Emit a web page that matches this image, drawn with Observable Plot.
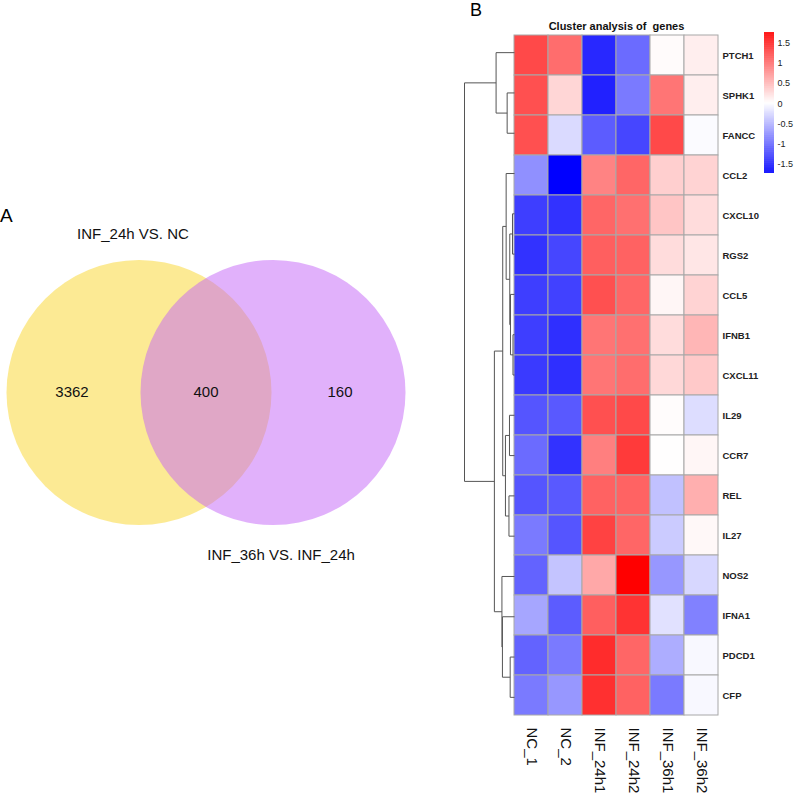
<!DOCTYPE html>
<html>
<head>
<meta charset="utf-8">
<script src="https://cdn.jsdelivr.net/npm/d3@7"></script>
<script src="https://cdn.jsdelivr.net/npm/@observablehq/plot@0.6"></script>
<style>
  body { margin: 0; background: #fff; }
  #fig { position: relative; width: 794px; height: 793px; overflow: hidden; background: #fff;
         font-family: "Liberation Sans", Arial, Helvetica, sans-serif; }
  #fig svg { position: absolute; left: 0; top: 0; }
  .panel { position: absolute; line-height: 1; color: #000; }
</style>
</head>
<body>
<div id="fig"></div>
<script>
// ---------------- DATA ----------------
// Venn (panel A)
const vennSets = ["INF_24h VS. NC", "INF_36h VS. INF_24h"];
const vennCounts = [3362, 400, 160]; // only set 1, both, only set 2
const vennColors = ["#F9D529", "#C363F7"];

// Heatmap (panel B)
const samples = ["NC_1", "NC_2", "INF_24h1", "INF_24h2", "INF_36h1", "INF_36h2"];
const genes = ["PTCH1", "SPHK1", "FANCC", "CCL2", "CXCL10", "RGS2", "CCL5", "IFNB1", "CXCL11",
               "IL29", "CCR7", "REL", "IL27", "NOS2", "IFNA1", "PDCD1", "CFP"];
// row z-scores, one array per sample (in gene order)
const zNC1    = [1.25, 1.20, 1.20, -0.75, -1.30, -1.38, -1.30, -1.30, -1.33, -1.15, -1.00, -1.15, -0.90, -1.05, -0.60, -1.05, -0.90];
const zNC2    = [1.00, 0.28, -0.25, -1.72, -1.38, -1.25, -1.28, -1.40, -1.40, -1.12, -1.38, -1.12, -1.15, -0.40, -1.10, -0.90, -0.70];
const zINF24a = [-1.45, -1.50, -1.10, 0.85, 1.05, 1.10, 1.20, 0.95, 0.95, 1.20, 0.88, 1.08, 1.30, 0.60, 1.10, 1.45, 1.42];
const zINF24b = [-1.00, -0.90, -1.25, 1.05, 0.98, 1.08, 1.05, 0.98, 1.00, 1.25, 1.35, 1.07, 1.05, 1.75, 1.40, 1.05, 1.08];
const zINF36a = [0.03, 0.95, 1.25, 0.33, 0.40, 0.24, 0.06, 0.24, 0.27, 0.02, 0.01, -0.42, -0.35, -0.70, -0.20, -0.55, -0.90];
const zINF36b = [0.12, 0.12, -0.03, 0.30, 0.24, 0.17, 0.30, 0.50, 0.37, -0.23, 0.06, 0.55, 0.05, -0.27, -0.85, -0.05, -0.05];
const legendTicks = [-1.5, -1, -0.5, 0, 0.5, 1, 1.5];
const zRange = [-1.72, 1.75];

// Row dendrogram merges: [left, right, height]; numbers refer to earlier merges
const merges = [
  ["SPHK1", "FANCC", 7.3],   // 0
  ["PTCH1", 0, 18.3],        // 1
  ["CXCL10", "RGS2", 2.0],   // 2
  ["IFNB1", "CXCL11", 1.5],  // 3
  ["CCL5", 3, 4.0],          // 4
  [2, 4, 4.7],               // 5
  ["CCL2", 5, 8.3],          // 6
  ["IL29", "CCR7", 5.0],     // 7
  ["REL", "IL27", 5.5],      // 8
  [7, 8, 9.0],               // 9
  [6, 9, 11.7],              // 10
  ["PDCD1", "CFP", 4.3],     // 11
  ["IFNA1", 11, 12.0],       // 12
  ["NOS2", 12, 12.5],        // 13
  [10, 13, 20.0],            // 14
  [1, 14, 49.7]              // 15
];

// ---------------- BUILD ----------------
const fig = document.getElementById("fig");
const FONT = "'Liberation Sans', Arial, Helvetica, sans-serif";
const baseStyle = `background:transparent;overflow:visible;font-family:${FONT};`;

// ---- Panel A: Venn ----
const vennCircles = vennSets.map((s, i) => ({set: s, cx: i, cy: 0, color: vennColors[i]}));
const vennRegions = [
  {label: String(vennCounts[0]), cx: -0.5},
  {label: String(vennCounts[1]), cx: 0.5},
  {label: String(vennCounts[2]), cx: 1.5}
];
const vennTitles = [
  {label: vennSets[0], cx: -0.045, cy: -1.18},
  {label: vennSets[1], cx: 1.06, cy: 1.215}
];
const venn = Plot.plot({
  width: 794, height: 793, margin: 0,
  style: baseStyle,
  x: {domain: [0, 1], range: [138.5, 272.5], axis: null},
  y: {domain: [0, 1], range: [392, 526], axis: null},
  marks: [
    Plot.dot(vennCircles, {x: "cx", y: "cy", r: 132.5, fill: "color", fillOpacity: 0.5, stroke: null}),
    Plot.text(vennRegions, {x: "cx", y: () => 0, text: "label", fontSize: 15, fill: "#111"}),
    Plot.text(vennTitles, {x: "cx", y: "cy", text: "label", fontSize: 15, fill: "#111"})
  ]
});
fig.appendChild(venn);

// ---- Panel B: heatmap ----
const cols = [zNC1, zNC2, zINF24a, zINF24b, zINF36a, zINF36b];
const cells = genes.flatMap((g, i) => samples.map((s, j) => ({gene: g, sample: s, z: cols[j][i]})));
const colorScale = {
  type: "linear", domain: [zRange[0], 0, zRange[1]],
  range: ["#0000ff", "#ffffff", "#ff0000"], interpolate: "rgb"
};

const heat = Plot.plot({
  width: 794, height: 793,
  marginLeft: 514, marginRight: 76, marginTop: 32, marginBottom: 76,
  style: baseStyle,
  x: {domain: samples, padding: 0, axis: null},
  y: {domain: genes, padding: 0, axis: null},
  color: colorScale,
  marks: [
    Plot.cell(cells, {x: "sample", y: "gene", fill: "z", stroke: "#a8a8a8", strokeWidth: 1, inset: 0}),
    Plot.axisY({anchor: "right", label: null, tickSize: 0, tickPadding: 4, fontSize: 9.5,
                fontWeight: "bold", fill: "#222"}),
    Plot.text(samples, {x: d => d, frameAnchor: "bottom", dy: 10, rotate: 90, textAnchor: "start",
                        lineAnchor: "middle", fontSize: 15, fill: "#111"}),
    Plot.text(["Cluster analysis of \u00a0genes"], {frameAnchor: "top", dy: -10, fontSize: 11,
                        fontWeight: "bold", fill: "#111"})
  ]
});
fig.appendChild(heat);

// ---- Dendrogram ----
const leafIndex = new Map(genes.map((g, i) => [g, i]));
const nodes = [];
const segs = [];
function nodeInfo(ref) {
  if (typeof ref === "string") return {y: leafIndex.get(ref), h: 0};
  return nodes[ref];
}
merges.forEach(([a, b, h]) => {
  const A = nodeInfo(a), B = nodeInfo(b);
  segs.push({x1: A.h, y1: A.y, x2: h, y2: A.y});
  segs.push({x1: h, y1: A.y, x2: h, y2: B.y});
  segs.push({x1: h, y1: B.y, x2: B.h, y2: B.y});
  nodes.push({y: (A.y + B.y) / 2, h});
});
const rootH = merges[merges.length - 1][2];
const dendro = Plot.plot({
  width: 794, height: 793,
  marginLeft: 464, marginRight: 280, marginTop: 32, marginBottom: 76,
  style: baseStyle,
  x: {domain: [rootH, 0], axis: null},
  y: {domain: [-0.5, genes.length - 0.5], reverse: true, axis: null},
  marks: [
    Plot.link(segs, {x1: "x1", y1: "y1", x2: "x2", y2: "y2", stroke: "#555", strokeWidth: 1})
  ]
});
fig.appendChild(dendro);

// ---- Colour legend ----
const step = 0.01;
const stops = d3.range(zRange[0], zRange[1], step).map(v => ({v0: v, v1: Math.min(v + step * 1.6, zRange[1]), v}));
const legend = Plot.plot({
  width: 794, height: 793,
  marginLeft: 764, marginRight: 20, marginTop: 32, marginBottom: 620,
  style: baseStyle,
  x: {axis: null},
  y: {domain: zRange, axis: null},
  color: colorScale,
  marks: [
    Plot.rect(stops, {y1: "v0", y2: "v1", fill: "v"}),
    Plot.axisY(legendTicks, {anchor: "right", label: null, tickSize: 0, tickPadding: 3, fontSize: 9,
                             tickFormat: d => String(d), fill: "#222"})
  ]
});
fig.appendChild(legend);

// ---- Panel letters ----
[["A", 0, 205.5, 19], ["B", 470, 0.5, 18]].forEach(([t, x, y, s]) => {
  const d = document.createElement("div");
  d.className = "panel";
  d.textContent = t;
  d.style.left = x + "px"; d.style.top = y + "px"; d.style.fontSize = s + "px";
  fig.appendChild(d);
});
</script>
</body>
</html>
